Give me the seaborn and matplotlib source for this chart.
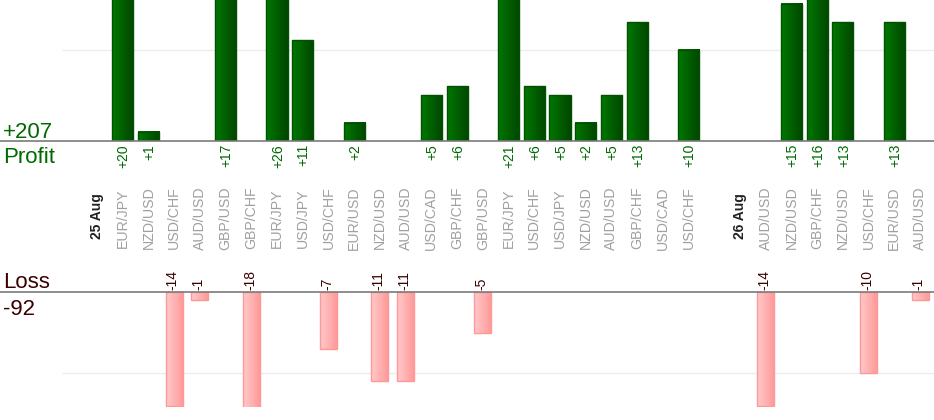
import numpy as np
import pandas as pd
import seaborn as sns
import matplotlib.pyplot as plt
from matplotlib import transforms
from matplotlib.colors import to_rgb

# --- data -------------------------------------------------
days = ['25 Aug', '26 Aug']
pairs_25 = ['EUR/JPY', 'NZD/USD', 'USD/CHF', 'AUD/USD', 'GBP/USD', 'GBP/CHF',
            'EUR/JPY', 'USD/JPY', 'USD/CHF', 'EUR/USD', 'NZD/USD', 'AUD/USD',
            'USD/CAD', 'GBP/CHF', 'GBP/USD', 'EUR/JPY', 'USD/CHF', 'USD/JPY',
            'NZD/USD', 'AUD/USD', 'GBP/CHF', 'USD/CAD', 'USD/CHF']
pnl_25 = [20, 1, -14, -1, 17, -18, 26, 11, -7, 2, -11, -11,
          5, 6, -5, 21, 6, 5, 2, 5, 13, 0, 10]
pairs_26 = ['AUD/USD', 'NZD/USD', 'GBP/CHF', 'NZD/USD', 'USD/CHF', 'EUR/USD', 'AUD/USD']
pnl_26 = [-14, 15, 16, 13, -10, 13, -1]

GREEN_TXT = '#006a00'
LOSS_TXT = '#3a0000'

# build slot layout: day label, trades, one empty slot before the next day
rows = []
day_slots = []
slot = 0
for day, pairs, pnl in [(days[0], pairs_25, pnl_25), (days[1], pairs_26, pnl_26)]:
    day_slots.append((slot, day))
    slot += 1
    for p, v in zip(pairs, pnl):
        rows.append({'slot': slot, 'pair': p, 'pnl': v})
        slot += 1
    slot += 1
df = pd.DataFrame(rows)
profit = df[df['pnl'] > 0]
loss = df[df['pnl'] < 0]

# --- figure ----------------------------------------------
plt.rcParams['font.family'] = ['Liberation Sans', 'DejaVu Sans']
W, H = 934, 420
fig = plt.figure(figsize=(W / 100, H / 100), dpi=100)

x0_px, step_px = 97, 25.72
xlim = (-x0_px / step_px, (W - x0_px) / step_px)

ax_p = fig.add_axes([0, 1 - 141 / H, 1, 141 / H])
ax_l = fig.add_axes([0, 1 - 407 / H, 1, 115 / H])

sns.barplot(data=profit, x='slot', y='pnl', native_scale=True, width=0.82,
            errorbar=None, color='#006000', edgecolor='#005200', linewidth=1, ax=ax_p)
sns.barplot(data=loss, x='slot', y='pnl', native_scale=True, width=0.66,
            errorbar=None, color='#ffb0b0', edgecolor='#ff9898', linewidth=1, ax=ax_l)


def gradient_bars(ax, c_left, c_right):
    a, b = np.array(to_rgb(c_left)), np.array(to_rgb(c_right))
    t = np.linspace(0, 1, 64)[None, :, None]
    img = a + (b - a) * t
    for p in list(ax.patches):
        x, y, w, h = p.get_x(), p.get_y(), p.get_width(), p.get_height()
        ax.imshow(img, extent=[x, x + w, min(y, y + h), max(y, y + h)],
                  aspect='auto', interpolation='bilinear', zorder=2)
        p.set_facecolor('none')
        p.set_zorder(3)


gradient_bars(ax_p, '#007800', '#004600')
gradient_bars(ax_l, '#ffcaca', '#ff9a9a')

for ax, ylim, grid in [(ax_p, (0, 141 / 9.15), 10), (ax_l, (-115 / 8.13, 0), -10)]:
    ax.set_xlim(*xlim)
    ax.set_ylim(*ylim)
    ax.axhline(grid, xmin=63 / W, color='#ececec', lw=1, zorder=0)
    ax.axhline(0, color='#7a7a7a', lw=1.2, zorder=4, clip_on=False)
    ax.set_axis_off()

# --- text ------------------------------------------------
tr = transforms.blended_transform_factory(ax_p.transData, fig.transFigure)


def fy(px):
    return 1 - px / H


for s, day in day_slots:
    fig.text(s, fy(216), day, transform=tr, rotation=90, ha='center', va='center',
             fontsize=10, fontweight='bold', color='#222222')
for s, p in zip(df['slot'], df['pair']):
    fig.text(s, fy(218), p, transform=tr, rotation=90, ha='center', va='center',
             fontsize=10.2, color='#a0a0a0')
for s, v in zip(profit['slot'], profit['pnl']):
    fig.text(s + 0.04, fy(144), f'+{v}', transform=tr, rotation=90, ha='center', va='top',
             fontsize=10, color=GREEN_TXT)
for s, v in zip(loss['slot'], loss['pnl']):
    fig.text(s - 0.05, fy(290.5), f'{v}', transform=tr, rotation=90, ha='center', va='bottom',
             fontsize=10, color=LOSS_TXT)

fig.text(3 / W, fy(138), f"+{profit['pnl'].sum()}", fontsize=16, color=GREEN_TXT, va='baseline')
fig.text(3 / W, fy(163), 'Profit', fontsize=16, color=GREEN_TXT, va='baseline')
fig.text(3 / W, fy(288), 'Loss', fontsize=16, color=LOSS_TXT, va='baseline')
fig.text(3 / W, fy(315), f"{loss['pnl'].sum()}", fontsize=16, color=LOSS_TXT, va='baseline')

fig.savefig('out.png', dpi=100)
